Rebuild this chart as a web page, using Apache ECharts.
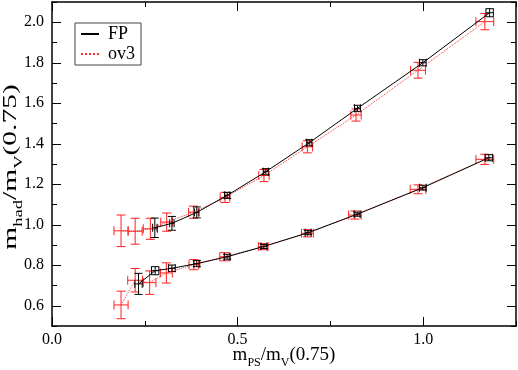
<!DOCTYPE html>
<html>
<head>
<meta charset="utf-8">
<script src="https://cdn.jsdelivr.net/npm/echarts@6/dist/echarts.min.js"></script>
<style>
  html, body { margin: 0; padding: 0; background: #fff; }
  #chart { width: 518px; height: 370px; }
</style>
</head>
<body>
<div id="chart"></div>
<script>
// FP, upper band
const fpUpX  = [0.277, 0.323, 0.390, 0.472, 0.576, 0.693, 0.823, 0.999, 1.179]
const fpUpY  = [0.985, 1.007, 1.061, 1.145, 1.262, 1.405, 1.575, 1.800, 2.047]
const fpUpDx = [0.006, 0.006, 0.006, 0.007, 0.007, 0.007, 0.008, 0.009, 0.010]
const fpUpDy = [0.048, 0.034, 0.027, 0.015, 0.015, 0.015, 0.015, 0.015, 0.020]
// FP, lower band
const fpLoX  = [0.233, 0.278, 0.323, 0.390, 0.472, 0.571, 0.690, 0.822, 0.999, 1.177]
const fpLoY  = [0.708, 0.773, 0.785, 0.808, 0.842, 0.893, 0.961, 1.052, 1.183, 1.331]
const fpLoDx = [0.010, 0.010, 0.009, 0.008, 0.008, 0.008, 0.008, 0.008, 0.009, 0.010]
const fpLoDy = [0.052, 0.020, 0.016, 0.015, 0.012, 0.010, 0.010, 0.010, 0.012, 0.015]
// ov3, upper band
const ovUpX  = [0.186, 0.224, 0.265, 0.309, 0.381, 0.466, 0.571, 0.688, 0.819, 0.986, 1.166]
const ovUpY  = [0.970, 0.968, 0.980, 1.013, 1.062, 1.135, 1.243, 1.385, 1.542, 1.763, 2.003]
const ovUpDx = [0.019, 0.019, 0.019, 0.016, 0.013, 0.013, 0.014, 0.014, 0.014, 0.020, 0.024]
const ovUpDy = [0.078, 0.064, 0.052, 0.045, 0.030, 0.025, 0.030, 0.030, 0.030, 0.039, 0.040]
// ov3, lower band
const ovLoX  = [0.186, 0.224, 0.263, 0.308, 0.382, 0.465, 0.569, 0.688, 0.816, 0.986, 1.166]
const ovLoY  = [0.604, 0.726, 0.714, 0.762, 0.803, 0.842, 0.892, 0.958, 1.048, 1.175, 1.323]
const ovLoDx = [0.019, 0.020, 0.017, 0.016, 0.013, 0.013, 0.013, 0.016, 0.017, 0.021, 0.024]
const ovLoDy = [0.068, 0.058, 0.058, 0.050, 0.025, 0.020, 0.015, 0.018, 0.020, 0.022, 0.025]

const xMajor = [0, 0.5, 1.0]
const yMajor = [0.6, 0.8, 1.0, 1.2, 1.4, 1.6, 1.8, 2.0]

const FONT = "'Liberation Serif', serif"

function pts(xs, ys) {
    return xs.map((x, i) => [x, ys[i]])
}
function errs(xs, ys, dxs, dys) {
    return xs.map((x, i) => [x, ys[i], dxs[i], dys[i]])
}

// error bars with caps, both directions
function errRender(color, cap) {
    return function (params, api) {
        let x = api.value(0), y = api.value(1), dx = api.value(2), dy = api.value(3)
        let l = api.coord([x - dx, y]), r = api.coord([x + dx, y])
        let t = api.coord([x, y + dy]), b = api.coord([x, y - dy])
        let h = cap / 2
        let st = { stroke: color, lineWidth: 1, fill: null }
        let seg = (x1, y1, x2, y2) => ({ type: 'line', shape: { x1: x1, y1: y1, x2: x2, y2: y2 }, style: st })
        return {
            type: 'group',
            children: [
                seg(l[0], l[1], r[0], r[1]),
                seg(t[0], t[1], b[0], b[1]),
                seg(l[0], l[1] - h, l[0], l[1] + h),
                seg(r[0], r[1] - h, r[0], r[1] + h),
                seg(t[0] - h, t[1], t[0] + h, t[1]),
                seg(b[0] - h, b[1], b[0] + h, b[1])
            ]
        }
    }
}

const tickRich = { t: { fontFamily: FONT, fontSize: 16, color: '#000' } }
const tickFmt = v => '{t|' + v.toFixed(1) + '}'

function xAx(pos, major, labels, extra) {
    let a = {
        type: 'value', position: pos, min: 0, max: 1.25, interval: 0.25,
        axisLine: { show: !major, onZero: false, lineStyle: { color: '#000', width: 1.5 } },
        axisTick: { inside: true, length: major ? 9 : 5, lineStyle: { color: '#000' } },
        axisLabel: { show: false },
        splitLine: { show: false }
    }
    if (major) a.axisTick.customValues = xMajor
    if (labels) {
        a.axisLabel = {
            show: true, customValues: xMajor, margin: 6, color: '#000',
            fontFamily: FONT, fontSize: 16, formatter: tickFmt, rich: tickRich
        }
    }
    return Object.assign(a, extra || {})
}
function yAx(pos, major, labels, extra) {
    let a = {
        type: 'value', position: pos, min: 0.5, max: 2.1, interval: 0.1,
        axisLine: { show: !major, onZero: false, lineStyle: { color: '#000', width: 1.5 } },
        axisTick: { inside: true, length: major ? 9 : 5, lineStyle: { color: '#000' } },
        axisLabel: { show: false },
        splitLine: { show: false }
    }
    if (major) a.axisTick.customValues = yMajor
    if (labels) {
        a.axisLabel = {
            show: true, customValues: yMajor, margin: 8, color: '#000',
            fontFamily: FONT, fontSize: 16, formatter: tickFmt, rich: tickRich
        }
    }
    return Object.assign(a, extra || {})
}

const nameRich = {
    m: { fontFamily: FONT, fontSize: 19, color: '#000', lineHeight: 28 },
    s: { fontFamily: FONT, fontSize: 12, color: '#000', lineHeight: 10, verticalAlign: 'bottom' }
}

let dom = document.getElementById('chart')
let myChart = echarts.init(dom)
var option = {
    animation: false,
    backgroundColor: '#fff',
    textStyle: { fontFamily: FONT },
    grid: { left: 52, right: 2, top: 2, bottom: 44, outerBoundsMode: 'none', containLabel: false },
    graphic: [{
        // y title, stretched along the text like the original
        type: 'text',
        x: 11, y: 167,
        rotation: Math.PI / 2,
        scaleX: 1.55,
        style: {
            text: '{m|m}{s|had}{m|/m}{s|V}{m|(0.75)}',
            rich: nameRich,
            align: 'center', verticalAlign: 'middle',
            fill: '#000'
        }
    }],
    legend: {
        data: ['FP', 'ov3'],
        orient: 'vertical',
        left: 75, top: 23,
        borderColor: '#444', borderWidth: 1,
        padding: [2, 6, 2, 5],
        itemGap: 2,
        itemWidth: 18, itemHeight: 14,
        itemStyle: { opacity: 0 },
        textStyle: { fontFamily: FONT, fontSize: 18, color: '#000', padding: [0, 0, 0, 4] }
    },
    xAxis: [
        xAx('bottom', false, false),
        xAx('bottom', true, true, {
            name: '{m|m}{s|PS}{m|/m}{s|V}{m|(0.75)}',
            nameLocation: 'middle', nameGap: 15, nameMoveOverlap: false,
            nameTextStyle: { rich: nameRich }
        }),
        xAx('top', false, false),
        xAx('top', true, false)
    ],
    yAxis: [
        yAx('left', false, false),
        yAx('left', true, true),
        yAx('right', false, false),
        yAx('right', true, false)
    ],
    series: [
        {
            name: 'ov3', type: 'line', data: pts(ovUpX, ovUpY), symbol: 'none',
            lineStyle: { color: '#ff3030', width: 1, type: 'dotted' }, itemStyle: { color: '#ff3030' }
        },
        {
            name: 'ov3', type: 'line', data: pts(ovLoX, ovLoY), symbol: 'none',
            lineStyle: { color: '#ff3030', width: 1, type: 'dotted' }, itemStyle: { color: '#ff3030' }
        },
        { name: 'ov3err', type: 'custom', data: errs(ovUpX, ovUpY, ovUpDx, ovUpDy), renderItem: errRender('#ff2020', 9) },
        { name: 'ov3err', type: 'custom', data: errs(ovLoX, ovLoY, ovLoDx, ovLoDy), renderItem: errRender('#ff2020', 9) },
        {
            name: 'FP', type: 'line', data: pts(fpUpX, fpUpY), symbol: 'none',
            lineStyle: { color: '#000', width: 1 }, itemStyle: { color: '#000' }
        },
        {
            name: 'FP', type: 'line', data: pts(fpLoX, fpLoY), symbol: 'none',
            lineStyle: { color: '#000', width: 1 }, itemStyle: { color: '#000' }
        },
        { name: 'FPerr', type: 'custom', data: errs(fpUpX, fpUpY, fpUpDx, fpUpDy), renderItem: errRender('#000', 8) },
        { name: 'FPerr', type: 'custom', data: errs(fpLoX, fpLoY, fpLoDx, fpLoDy), renderItem: errRender('#000', 8) }
    ]
}
if (option && typeof option === 'object') {
    myChart.setOption(option);
}
</script>
</body>
</html>
